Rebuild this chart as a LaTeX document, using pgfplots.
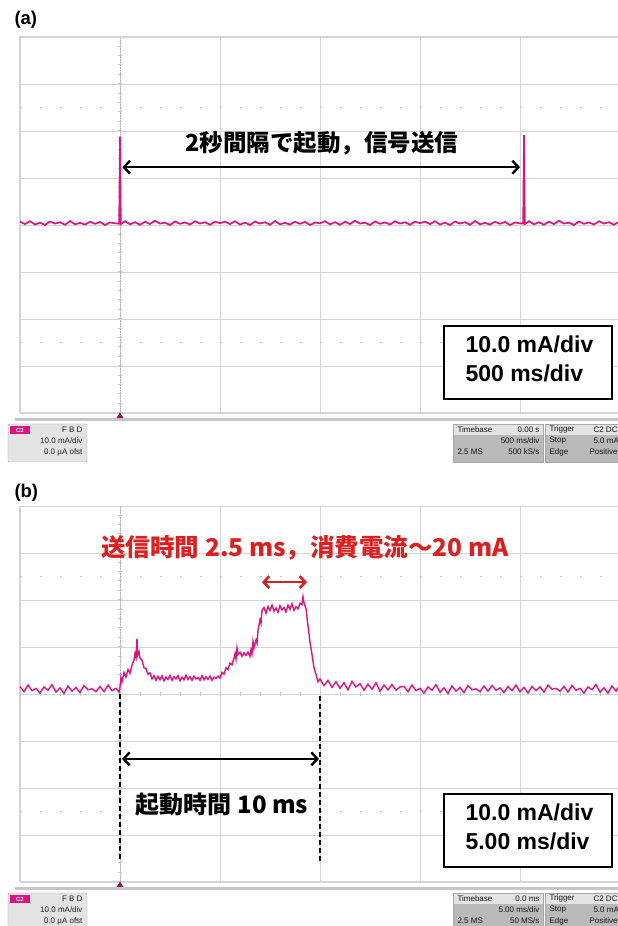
\documentclass[border=0pt]{standalone}
\usepackage{fontspec}
\setmainfont{Liberation Sans}
\newfontfamily\jp{Noto Sans CJK JP}
\usepackage{pgfplots}
\pgfplotsset{compat=1.18}
\usetikzlibrary{arrows.meta}
\definecolor{trace}{RGB}{218,20,128}
\definecolor{redtxt}{RGB}{218,32,32}
\definecolor{gridc}{RGB}{212,212,212}

\pgfplotsset{osc/.style={
  width=598pt, height=376pt, scale only axis,
  ymin=-40, ymax=40, ytick distance=10,
  xticklabels={}, yticklabels={}, major tick length=0pt,
  grid=major, major grid style={gridc, line width=0.9pt},
  axis line style={gridc, line width=1pt},
  clip mode=individual,
  /pgf/number format/assume math mode=true,
}}

\newcommand{\statusbar}[6]{%
\begin{scope}[yshift=-#1pt, font=\fontsize{8}{9}\selectfont]
  \fill[gray!45] (15,418) rectangle (618,421);
  \fill[trace!70!black] (120,412.5) -- (123.5,418) -- (116.5,418) -- cycle;
  % channel box
  \draw[gray!70, fill=gray!22, rounded corners=1pt] (8,424) rectangle (87,462);
  \fill[trace] (10,426) rectangle (30,434);
  \node[white, font=\fontsize{6}{7}\selectfont\bfseries] at (20,430) {#2};
  \node[anchor=east, text=gray!25!black] at (86,430) {F B D};
  \node[anchor=east, text=gray!25!black] at (86,441) {10.0 mA/div};
  \node[anchor=east, text=gray!25!black] at (86,452) {0.0 µA ofst};
  % timebase box
  \fill[gray!55] (453,424) rectangle (543,462);
  \fill[gray!22] (453,424) rectangle (543,435);
  \draw[gray!70] (453,424) rectangle (543,462);
  \node[anchor=west, text=gray!15!black] at (454,429.5) {Timebase};
  \node[anchor=east, text=gray!15!black] at (543,429.5) {#3};
  \node[anchor=east, text=gray!15!black] at (543,441) {#4};
  \node[anchor=west, text=gray!15!black] at (454,452) {2.5 MS};
  \node[anchor=east, text=gray!15!black] at (543,452) {#5};
  % trigger box
  \fill[gray!55] (545,424) rectangle (630,462);
  \fill[gray!22] (545,424) rectangle (630,435);
  \draw[gray!70] (545,424) rectangle (630,462);
  \node[anchor=west, text=gray!15!black] at (546,429.5) {Trigger};
  \node[anchor=west, text=gray!15!black] at (590,429.5) {C2 DC};
  \node[anchor=west, text=gray!15!black] at (546,441) {Stop};
  \node[anchor=west, text=gray!15!black] at (590,441) {5.0 mA};
  \node[anchor=west, text=gray!15!black] at (546,452) {Edge};
  \node[anchor=west, text=gray!15!black] at (586,452) {Positive};
\end{scope}}

\begin{document}
\begin{tikzpicture}
\path[use as bounding box] (0,0) rectangle (618pt,926pt);

% ---------------- panel (a) ----------------
\begin{axis}[osc, at={(20pt,513pt)}, anchor=south west,
  xmin=-500, xmax=2490, xtick distance=500]
\draw[gray!45, line width=1.6pt, dash pattern=on 1.6pt off 18.4pt] (axis cs:-500,25) -- (axis cs:2490,25);
\draw[gray!45, line width=1.6pt, dash pattern=on 1.6pt off 18.4pt] (axis cs:-500,-25) -- (axis cs:2490,-25);
\draw[gray!60, line width=0.6pt, densely dotted] (axis cs:0,-40) -- (axis cs:0,40);
\draw[gray!45, line width=4pt, dash pattern=on 0.7pt off 8.7pt] (axis cs:0,-40) -- (axis cs:0,40);
\addplot[trace, line width=1.7pt] coordinates {
(-500,0.7) (-475,0.2) (-450,0.8) (-425,0.1) (-400,0.5) (-375,0.0) (-350,0.75) (-325,0.3) (-300,0.6) (-275,0.05)
(-250,0.85) (-225,0.15) (-200,0.45) (-175,0.1) (-150,0.7) (-125,0.25) (-100,0.65) (-75,0.0) (-50,0.55) (-25,0.35)
(-4,0.3) (0,18.8) (4,0.2)
(25,0.8) (50,0.15) (75,0.6) (100,0.05) (125,0.7) (150,0.2) (175,0.9) (200,0.3) (225,0.5) (250,0.0)
(275,0.75) (300,0.25) (325,0.55) (350,0.1) (375,0.8) (400,0.3) (425,0.6) (450,0.05) (475,0.7) (500,0.4)
(525,0.7) (550,0.2) (575,0.8) (600,0.1) (625,0.5) (650,0.0) (675,0.75) (700,0.3) (725,0.6) (750,0.05)
(775,0.85) (800,0.15) (825,0.45) (850,0.1) (875,0.7) (900,0.25) (925,0.65) (950,0.0) (975,0.55) (1000,0.35)
(1025,0.8) (1050,0.15) (1075,0.6) (1100,0.05) (1125,0.7) (1150,0.2) (1175,0.9) (1200,0.3) (1225,0.5) (1250,0.0)
(1275,0.75) (1300,0.25) (1325,0.55) (1350,0.1) (1375,0.8) (1400,0.3) (1425,0.6) (1450,0.05) (1475,0.7) (1500,0.4)
(1525,0.7) (1550,0.2) (1575,0.8) (1600,0.1) (1625,0.5) (1650,0.0) (1675,0.75) (1700,0.3) (1725,0.6) (1750,0.05)
(1775,0.85) (1800,0.15) (1825,0.45) (1850,0.1) (1875,0.7) (1900,0.25) (1925,0.65) (1950,0.0) (1975,0.55) (2000,0.35)
(2016,0.3) (2020,19.1) (2024,0.2)
(2045,0.8) (2070,0.15) (2095,0.6) (2120,0.05) (2145,0.7) (2170,0.2) (2195,0.9) (2220,0.3) (2245,0.5) (2270,0.0)
(2295,0.75) (2320,0.25) (2345,0.55) (2370,0.1) (2395,0.8) (2420,0.3) (2445,0.6) (2470,0.05) (2490,0.6)
};
\draw[line width=2.4pt, arrows={Straight Barb[length=6pt,width=13pt]-Straight Barb[length=6pt,width=13pt]}]
  (axis cs:12,12.3) -- (axis cs:2000,12.3);
\node[font=\jp\bfseries\fontsize{23.5}{26}\selectfont] at (axis cs:1010,17.4) {2秒間隔で起動，信号送信};
\end{axis}

% ---------------- panel (b) ----------------
\begin{axis}[osc, at={(20pt,44pt)}, anchor=south west,
  xmin=-5, xmax=24.9, xtick distance=5]
\draw[gray!45, line width=1.6pt, dash pattern=on 1.6pt off 18.4pt] (axis cs:-5,25) -- (axis cs:24.9,25);
\draw[gray!45, line width=1.6pt, dash pattern=on 1.6pt off 18.4pt] (axis cs:-5,-25) -- (axis cs:24.9,-25);
\draw[gray!60, line width=0.6pt, densely dotted] (axis cs:0,-40) -- (axis cs:0,40);
\draw[gray!45, line width=4pt, dash pattern=on 0.7pt off 8.7pt] (axis cs:0,-40) -- (axis cs:0,40);
\draw[gray!45, line width=4pt, dash pattern=on 0.7pt off 19.3pt] (axis cs:-5,0) -- (axis cs:24.9,0);
\addplot[trace, line width=1.4pt] coordinates {
(-5.0,1.6) (-4.8,0.5) (-4.6,1.9) (-4.4,0.7) (-4.2,1.2) (-4.0,0.2) (-3.8,1.5) (-3.6,0.8) (-3.4,2.0) (-3.2,0.4)
(-3.0,1.3) (-2.8,0.1) (-2.6,1.7) (-2.4,0.6) (-2.2,1.4) (-2.0,0.3) (-1.8,1.8) (-1.6,0.9) (-1.4,1.1) (-1.2,0.5)
(-1.0,1.6) (-0.8,0.5) (-0.6,1.9) (-0.4,0.7) (-0.2,1.2) (-0.05,0.4)
(0.0,1.5) (0.05,3.5) (0.1,2.6) (0.2,4.6) (0.3,3.6) (0.4,5.2) (0.5,4.4) (0.6,6.2) (0.7,7.2) (0.75,8.6)
(0.8,7.8) (0.85,11.8) (0.88,8.2) (0.95,9.0) (1.0,7.6) (1.1,7.2) (1.2,5.6) (1.3,5.4) (1.4,4.2) (1.5,4.5)
(1.6,3.2) (1.7,3.9) (1.8,2.9) (1.9,3.8) (2.0,3.0) (2.1,3.9) (2.2,2.8) (2.3,3.6) (2.4,3.1) (2.5,4.0)
(2.6,2.9) (2.7,3.7) (2.8,3.2) (2.9,3.9) (3.0,2.8) (3.1,3.6) (3.2,3.0) (3.3,4.0) (3.4,3.1) (3.5,3.7)
(3.6,2.9) (3.7,3.8) (3.8,3.2) (3.9,3.5) (4.0,2.9) (4.1,3.9) (4.2,3.0) (4.3,3.7) (4.4,3.1) (4.5,3.8)
(4.6,2.9) (4.7,3.6) (4.8,3.3) (4.9,3.8) (5.0,3.4) (5.1,4.6) (5.2,4.2) (5.3,5.6) (5.4,5.2) (5.5,6.6)
(5.6,6.2) (5.7,7.6) (5.75,8.6) (5.8,7.4) (5.85,9.8) (5.9,8.4) (6.0,8.9) (6.1,8.0) (6.2,8.8) (6.3,8.2)
(6.4,8.9) (6.5,8.0) (6.55,9.4) (6.6,8.6) (6.65,11.2) (6.7,9.8) (6.8,11.5) (6.85,10.8) (6.9,13.5) (7.0,15.8)
(7.05,15.0) (7.1,17.8) (7.2,18.4) (7.3,17.2) (7.4,18.6) (7.5,17.8) (7.6,18.9) (7.7,17.6) (7.8,18.3) (7.9,17.4)
(8.0,18.8) (8.1,17.9) (8.2,18.4) (8.3,17.5) (8.4,18.9) (8.5,18.0) (8.6,19.2) (8.7,17.8) (8.8,18.6) (8.9,18.1)
(9.0,19.3) (9.1,19.0) (9.15,20.7) (9.2,19.4) (9.3,18.2) (9.4,14.5) (9.5,11.0) (9.6,8.4) (9.7,5.6) (9.8,4.2)
(9.9,2.6) (10.0,3.2)
(10.2,1.8) (10.4,2.9) (10.6,1.4) (10.8,2.6) (11.0,1.2) (11.2,2.4) (11.4,0.9) (11.6,2.7) (11.8,1.5) (12.0,2.2)
(12.2,0.8) (12.4,2.1) (12.6,1.0) (12.8,2.4) (13.0,0.6) (13.2,1.9) (13.4,0.9) (13.6,2.0) (13.8,0.8) (14.0,1.5)
(14.2,1.6) (14.4,0.5) (14.6,1.9) (14.8,0.7) (15.0,1.2) (15.2,0.2) (15.4,1.5) (15.6,0.8) (15.8,2.0) (16.0,0.4)
(16.2,1.3) (16.4,0.1) (16.6,1.7) (16.8,0.6) (17.0,1.4) (17.2,0.3) (17.4,1.8) (17.6,0.9) (17.8,1.1) (18.0,0.5)
(18.2,1.7) (18.4,0.6) (18.6,1.8) (18.8,0.8) (19.0,1.3) (19.2,0.3) (19.4,1.6) (19.6,0.7) (19.8,1.9) (20.0,0.5)
(20.2,1.4) (20.4,0.2) (20.6,1.6) (20.8,0.7) (21.0,1.5) (21.2,0.4) (21.4,1.9) (21.6,1.0) (21.8,1.2) (22.0,0.6)
(22.2,1.6) (22.4,0.4) (22.6,1.8) (22.8,0.8) (23.0,1.2) (23.2,0.2) (23.4,1.5) (23.6,0.9) (23.8,2.0) (24.0,0.4)
(24.2,1.3) (24.4,0.2) (24.6,1.7) (24.8,0.6) (24.9,1.4)
};
\draw[black, line width=1.3pt, dash pattern=on 5pt off 3pt] (axis cs:0,0) -- (axis cs:0,-35.7);
\draw[black, line width=1.3pt, dash pattern=on 5pt off 3pt] (axis cs:10,-0.5) -- (axis cs:10,-35.7);
\draw[line width=2.4pt, arrows={Straight Barb[length=6pt,width=13pt]-Straight Barb[length=6pt,width=13pt]}]
  (axis cs:0.1,-13.8) -- (axis cs:9.95,-13.8);
\draw[redtxt, line width=2.6pt, arrows={Straight Barb[length=5.5pt,width=12pt]-Straight Barb[length=5.5pt,width=12pt]}]
  (axis cs:7.1,23.8) -- (axis cs:9.35,23.8);
\node[text=redtxt, font=\jp\bfseries\fontsize{24.5}{27}\selectfont] at (axis cs:9.25,31) {送信時間 2.5 ms，消費電流～20 mA};
\node[font=\jp\bfseries\fontsize{24}{26}\selectfont] at (axis cs:5.1,-23.6) {起動時間 10 ms};
\end{axis}

% ---------------- decorations in pixel coordinates ----------------
\begin{scope}[x=1pt, y=-1pt, yshift=926pt]
  \node[anchor=west, font=\bfseries\fontsize{18.5}{21}\selectfont] at (11,20) {(a)};
  \node[anchor=west, font=\bfseries\fontsize{18.5}{21}\selectfont] at (11,493) {(b)};
  % info boxes
  \draw[line width=1.6pt, fill=white] (444,326) rectangle (612,399);
  \node[anchor=base west, font=\bfseries\fontsize{23}{28}\selectfont] at (462,353) {10.0 mA/div};
  \node[anchor=base west, font=\bfseries\fontsize{23}{28}\selectfont] at (462,382) {500 ms/div};
  \draw[line width=1.6pt, fill=white] (444,794) rectangle (612,867);
  \node[anchor=base west, font=\bfseries\fontsize{23}{28}\selectfont] at (462,821) {10.0 mA/div};
  \node[anchor=base west, font=\bfseries\fontsize{23}{28}\selectfont] at (462,850) {5.00 ms/div};
  \statusbar{0}{C2}{0.00 s}{500 ms/div}{500 kS/s}{}
  \statusbar{469}{C2}{0.0 ms}{5.00 ms/div}{50 MS/s}{}
\end{scope}
\end{tikzpicture}
\end{document}
